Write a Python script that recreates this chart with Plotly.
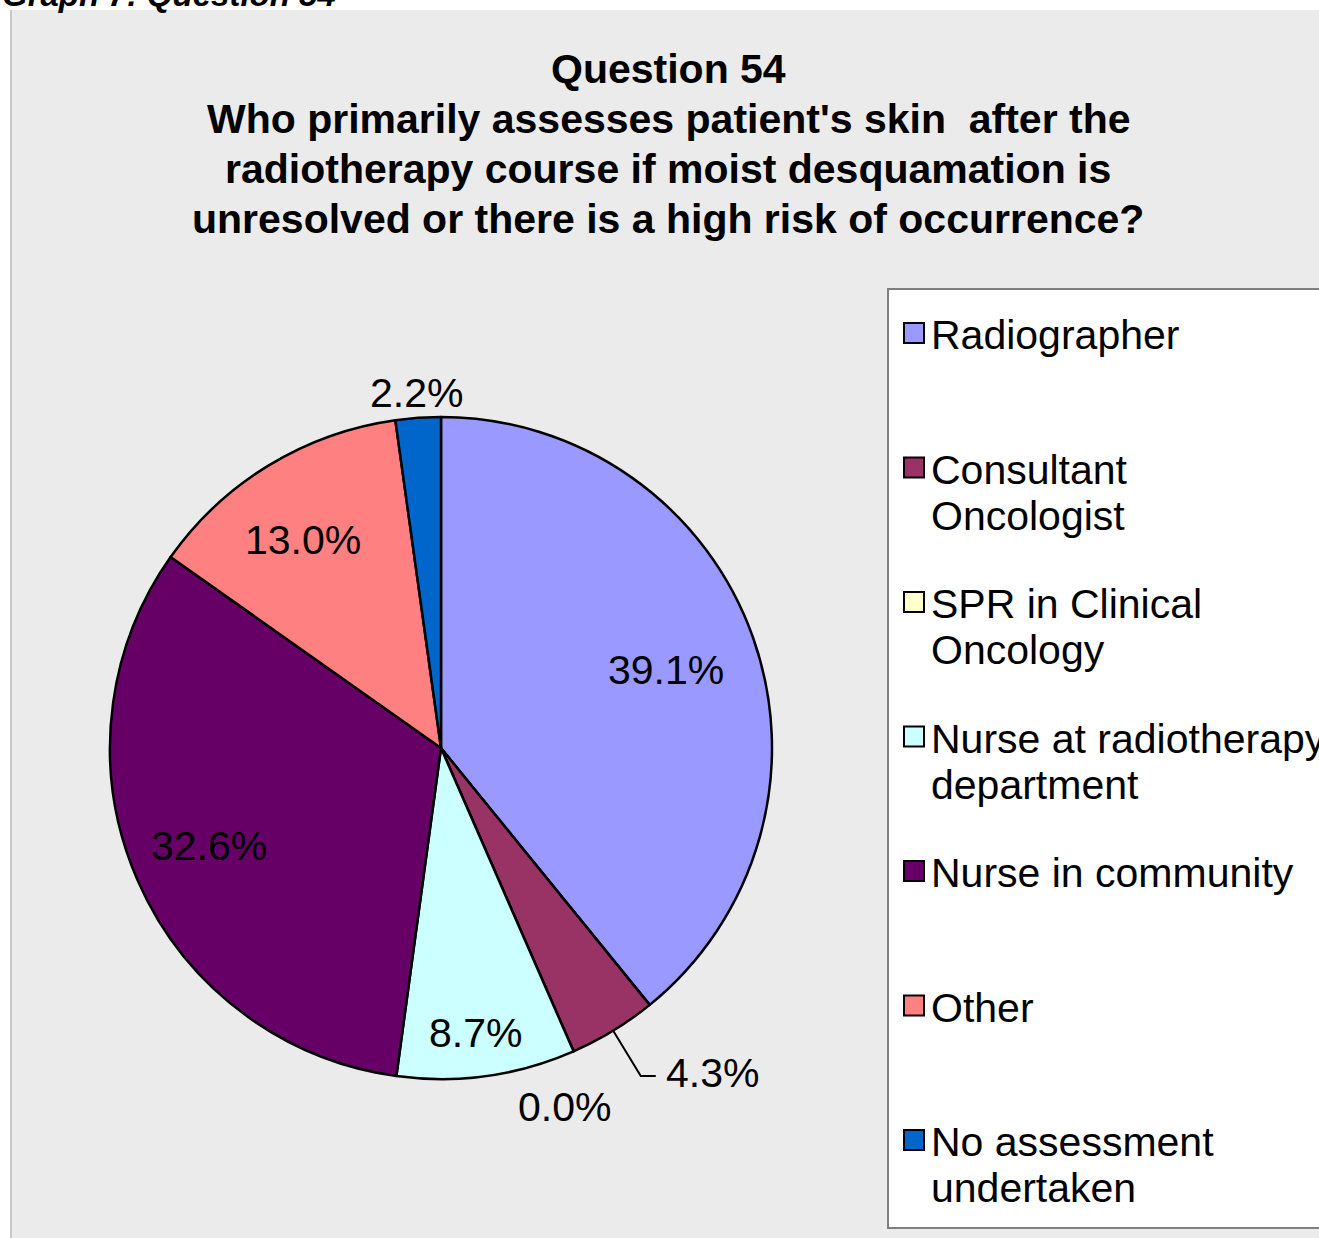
import math
import plotly.graph_objects as go

# ---------------- data ----------------
categories = [
    "Radiographer",
    "Consultant Oncologist",
    "SPR in Clinical Oncology",
    "Nurse at radiotherapy department",
    "Nurse in community",
    "Other",
    "No assessment undertaken",
]
legend_lines = [
    ["Radiographer"],
    ["Consultant", "Oncologist"],
    ["SPR in Clinical", "Oncology"],
    ["Nurse at radiotherapy", "department"],
    ["Nurse in community"],
    ["Other"],
    ["No assessment", "undertaken"],
]
percentages = [39.1, 4.3, 0.0, 8.7, 32.6, 13.0, 2.2]
colors = ["#9999FF", "#993366", "#FFFFCC", "#CCFFFF", "#660066", "#FF8080", "#0066CC"]
title_lines = [
    "Question 54",
    "Who primarily assesses patient's skin  after the",
    "radiotherapy course if moist desquamation is",
    "unresolved or there is a high risk of occurrence?",
]
doc_caption = "Graph 7: Question 54"

# ---------------- layout constants ----------------
W, H = 1319, 1238
FONT = "Liberation Sans, Arial, Helvetica, sans-serif"
CX, CY, R = 441, 748, 331            # pie centre / radius in px
# label placement style: (radius fraction, angle shift deg), None = leader line
label_style = [(0.72, 0), None, (1.14, 4.5), (0.86, 1), (0.76, 1), (0.76, -2), (1.08, 0)]


def px(x):
    return x / W


def py(y):
    return 1 - y / H


fig = go.Figure()

fig.add_trace(go.Pie(
    labels=categories,
    values=percentages,
    sort=False,
    direction="clockwise",
    rotation=0,
    marker=dict(colors=colors, line=dict(color="#000000", width=2.5)),
    textinfo="none",
    hoverinfo="label+value",
    showlegend=False,
    domain=dict(x=[px(CX - R), px(CX + R)], y=[py(CY + R), py(CY - R)]),
))

shapes = []
annotations = []

# gray panel
shapes.append(dict(type="rect", xref="paper", yref="paper",
                   x0=px(10), x1=px(W + 20), y0=py(H + 20), y1=py(10),
                   fillcolor="#EBEBEB", line=dict(width=0), layer="below"))
shapes.append(dict(type="line", xref="paper", yref="paper",
                   x0=px(11), x1=px(11), y0=py(H), y1=py(10),
                   line=dict(color="#C8C8C8", width=2), layer="below"))

# caption (cut off at top, as in the source page)
annotations.append(dict(text="<b><i>" + doc_caption + "</i></b>", xref="paper", yref="paper",
                        x=px(0), y=py(-6), xanchor="left", yanchor="middle",
                        showarrow=False, font=dict(family=FONT, size=33, color="#000000")))

# title
for i, line in enumerate(title_lines):
    annotations.append(dict(text="<b>" + line + "</b>", xref="paper", yref="paper",
                            x=px(668), y=py(69 + 50 * i), xanchor="center", yanchor="middle",
                            showarrow=False, font=dict(family=FONT, size=41, color="#000000")))

# pie labels
total = sum(percentages)
cum = 0.0
for i, v in enumerate(percentages):
    mid = (cum + v / 2) / total * 360.0
    cum += v
    txt = f"{v:.1f}%"
    st = label_style[i]
    if st is None:
        a = math.radians(mid)
        x0, y0 = CX + R * math.sin(a), CY - R * math.cos(a)
        x1, y1 = CX + 1.16 * R * math.sin(a), CY - 1.16 * R * math.cos(a)
        x2 = x1 + 15
        shapes.append(dict(type="path", xref="paper", yref="paper",
                           path=f"M {px(x0)},{py(y0)} L {px(x1)},{py(y1)} L {px(x2)},{py(y1)}",
                           line=dict(color="#000000", width=2)))
        annotations.append(dict(text=txt, xref="paper", yref="paper",
                                x=px(x2 + 8), y=py(y1 - 3), xanchor="left", yanchor="middle",
                                showarrow=False, font=dict(family=FONT, size=41, color="#000000")))
    else:
        rf, sh = st
        a = math.radians(mid + sh)
        x, y = CX + rf * R * math.sin(a), CY - rf * R * math.cos(a)
        annotations.append(dict(text=txt, xref="paper", yref="paper",
                                x=px(x), y=py(y + 2), xanchor="center", yanchor="middle",
                                showarrow=False, font=dict(family=FONT, size=41, color="#000000")))

# legend box
shapes.append(dict(type="rect", xref="paper", yref="paper",
                   x0=px(888), x1=px(W + 20), y0=py(1228), y1=py(289),
                   fillcolor="#FFFFFF", line=dict(color="#7F7F7F", width=2)))
for i, lines in enumerate(legend_lines):
    yc = 333 + 134.5 * i
    shapes.append(dict(type="rect", xref="paper", yref="paper",
                       x0=px(904), x1=px(924), y0=py(yc + 10), y1=py(yc - 10),
                       fillcolor=colors[i], line=dict(color="#000000", width=2)))
    for j, ln in enumerate(lines):
        annotations.append(dict(text=ln, xref="paper", yref="paper",
                                x=px(929), y=py(yc + 46 * j + 2), xanchor="left", yanchor="middle",
                                showarrow=False, font=dict(family=FONT, size=41, color="#000000")))

fig.update_layout(
    width=W, height=H,
    margin=dict(l=0, r=0, t=0, b=0),
    paper_bgcolor="#FFFFFF",
    plot_bgcolor="#FFFFFF",
    shapes=shapes,
    annotations=annotations,
    showlegend=False,
)

fig.write_html("out.html", config={"displayModeBar": False},
               post_script="document.body.style.margin='0';document.body.style.overflow='hidden';")
